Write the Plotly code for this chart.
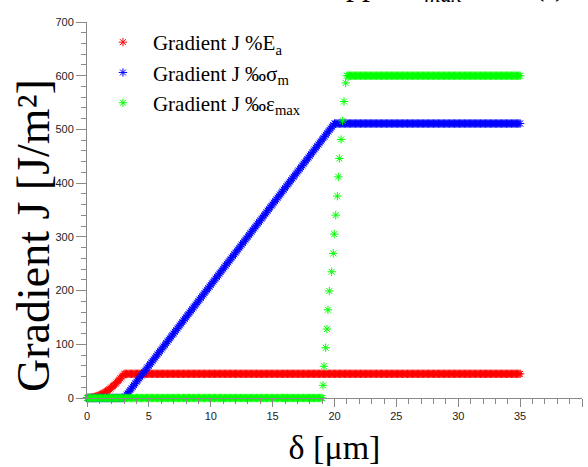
import plotly.graph_objects as go

# ---------------- data ----------------
STEP = 0.1  # sampling step of delta [um] in the dense parts

# Gradient J %E_a : parabolic rise over 0..3 um, then flat
red_rise = [0.0, 0.05, 0.2, 0.45, 0.8, 1.25, 1.8, 2.45, 3.2, 4.05, 5.0,
            6.05, 7.2, 8.45, 9.8, 11.25, 12.8, 14.45, 16.2, 18.05, 20.0,
            22.05, 24.2, 26.45, 28.8, 31.25, 33.8, 36.45, 39.2, 42.05, 45.0]
red_flat_value = 45.0
red_flat_count = 320

# Gradient J %sigma_m : zero until 3 um, linear rise until 20 um, then flat
blue_zero_count = 30
blue_rise = [0.0, 3.0, 6.0, 9.0, 12.0, 15.0, 18.0, 21.0, 24.0, 27.1,
             30.1, 33.1, 36.1, 39.1, 42.1, 45.1, 48.1, 51.1, 54.1, 57.1,
             60.1, 63.1, 66.1, 69.1, 72.1, 75.1, 78.2, 81.2, 84.2, 87.2,
             90.2, 93.2, 96.2, 99.2, 102.2, 105.2, 108.2, 111.2, 114.2, 117.2,
             120.2, 123.2, 126.2, 129.3, 132.3, 135.3, 138.3, 141.3, 144.3, 147.3,
             150.3, 153.3, 156.3, 159.3, 162.3, 165.3, 168.3, 171.3, 174.3, 177.3,
             180.4, 183.4, 186.4, 189.4, 192.4, 195.4, 198.4, 201.4, 204.4, 207.4,
             210.4, 213.4, 216.4, 219.4, 222.4, 225.4, 228.4, 231.5, 234.5, 237.5,
             240.5, 243.5, 246.5, 249.5, 252.5, 255.5, 258.5, 261.5, 264.5, 267.5,
             270.5, 273.5, 276.5, 279.5, 282.6, 285.6, 288.6, 291.6, 294.6, 297.6,
             300.6, 303.6, 306.6, 309.6, 312.6, 315.6, 318.6, 321.6, 324.6, 327.6,
             330.6, 333.7, 336.7, 339.7, 342.7, 345.7, 348.7, 351.7, 354.7, 357.7,
             360.7, 363.7, 366.7, 369.7, 372.7, 375.7, 378.7, 381.7, 384.8, 387.8,
             390.8, 393.8, 396.8, 399.8, 402.8, 405.8, 408.8, 411.8, 414.8, 417.8,
             420.8, 423.8, 426.8, 429.8, 432.8, 435.9, 438.9, 441.9, 444.9, 447.9,
             450.9, 453.9, 456.9, 459.9, 462.9, 465.9, 468.9, 471.9, 474.9, 477.9,
             480.9, 483.9, 486.9, 490.0, 493.0, 496.0, 499.0, 502.0, 505.0, 508.0,
             511.0]
blue_flat_value = 511.0
blue_flat_count = 150

# Gradient J %eps_max : zero until 19 um, sparse steep rise, flat after 21 um
green_zero_count = 191
green_rise_x = [19.07, 19.15, 19.29, 19.39, 19.47, 19.58, 19.77, 19.90, 19.98,
                20.10, 20.23, 20.31, 20.39, 20.53, 20.66, 20.77, 20.90]
green_rise_y = [23.6, 59.0, 93.6, 128.4, 164.3, 199.1, 235.0, 269.2, 305.1,
                340.5, 375.8, 411.7, 446.0, 481.3, 515.9, 552.0, 586.6]
green_flat_start = 21.0
green_flat_value = 600.0
green_flat_count = 141

series_names = ["Gradient J %E<sub>a</sub>",
                "Gradient J ‰σ<sub>m</sub>",
                "Gradient J ‰ε<sub>max</sub>"]
series_colors = ["#ff0000", "#0000ff", "#00ff00"]

x_ticks = [0, 5, 10, 15, 20, 25, 30, 35, 40]
y_ticks = [0, 100, 200, 300, 400, 500, 600, 700]

# ---------------- assemble series ----------------
def grid(start_index, count):
    return [round((start_index + i) * STEP, 1) for i in range(count)]

red_x = grid(0, len(red_rise) + red_flat_count)
red_y = red_rise + [red_flat_value] * red_flat_count

blue_x = grid(0, blue_zero_count + len(blue_rise) + blue_flat_count)
blue_y = [0.0] * blue_zero_count + blue_rise + [blue_flat_value] * blue_flat_count

green_x = (grid(0, green_zero_count) + green_rise_x
           + grid(int(round(green_flat_start / STEP)), green_flat_count))
green_y = [0.0] * green_zero_count + green_rise_y + [green_flat_value] * green_flat_count

fig = go.Figure()
for name, col, xs, ys in zip(series_names, series_colors,
                             [red_x, blue_x, green_x], [red_y, blue_y, green_y]):
    fig.add_trace(go.Scatter(
        x=xs, y=ys, mode="markers", name=name, cliponaxis=False,
        marker=dict(symbol="asterisk-open", size=7, color=col,
                    line=dict(color=col, width=1)),
    ))

serif = "Liberation Serif, Times New Roman, serif"
sans = "Liberation Sans, Arial, sans-serif"

fig.update_layout(
    width=588, height=467,
    margin=dict(l=87, r=6, t=22, b=69),
    paper_bgcolor="white", plot_bgcolor="white",
    showlegend=True,
    legend=dict(x=0.012, y=1.0, xanchor="left", yanchor="top",
                font=dict(family=serif, size=21, color="black"),
                bgcolor="rgba(0,0,0,0)", itemwidth=50, tracegroupgap=0),
    xaxis=dict(range=[0, 40], tickvals=x_ticks, ticktext=[str(v) for v in x_ticks],
               showgrid=False, zeroline=False, showline=True, linecolor="#8a8a8a",
               linewidth=1, ticks="outside", ticklen=8, tickcolor="#8a8a8a",
               minor=dict(dtick=1, ticks="outside", ticklen=5, tickcolor="#8a8a8a"),
               tickfont=dict(family=sans, size=11, color="#222222"),
               title=dict(text="δ [μm]", font=dict(family=serif, size=34, color="black"),
                          standoff=13)),
    yaxis=dict(range=[0, 700], tickvals=y_ticks, ticktext=[str(v) for v in y_ticks],
               showgrid=False, zeroline=False, showline=True, linecolor="#8a8a8a",
               linewidth=1, ticks="outside", ticklen=10, tickcolor="#8a8a8a",
               minor=dict(dtick=20, ticks="outside", ticklen=5, tickcolor="#8a8a8a"),
               tickfont=dict(family=sans, size=11, color="#222222")),
)

# y-axis title (placed as an annotation to match the reference position)
fig.add_annotation(text="Gradient J [J/m²]", textangle=-90,
                   xref="paper", yref="paper", x=-0.107, y=0.431,
                   xanchor="center", yanchor="middle", showarrow=False,
                   font=dict(family=serif, size=46, color="black"))

# partially visible title at the very top of the page (mostly cut off)
fig.add_annotation(text="Upper ε<sub><i>max</i></sub>" + "\u00a0" * 9 + "(-)",
                   xref="paper", yref="paper", x=0.4727, y=1.035,
                   xanchor="left", yanchor="bottom", showarrow=False,
                   font=dict(family=serif, size=32, color="black"))

fig.write_html("out.html", config={"displayModeBar": False},
               post_script="document.body.style.margin='0px';")
